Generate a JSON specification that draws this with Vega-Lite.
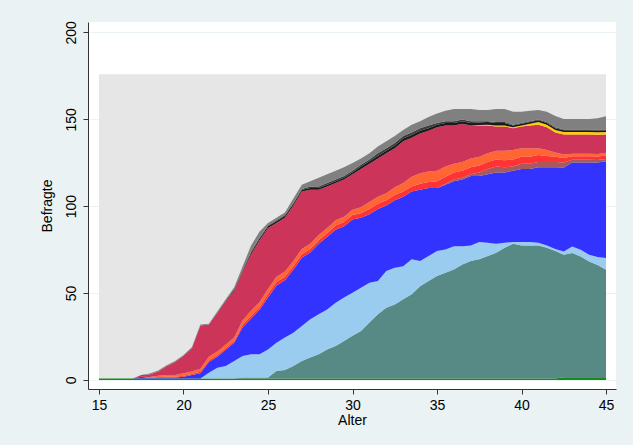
{
  "$schema": "https://vega.github.io/schema/vega-lite/v6.json",
  "width": 528,
  "height": 367,
  "autosize": {"type": "none"},
  "padding": {"left": 88, "top": 22, "right": 17, "bottom": 56},
  "background": "#EAF2F3",
  "view": {"fill": "white", "stroke": null},
  "config": {
    "font": "Liberation Sans",
    "axis": {
      "labelFont": "Liberation Sans", "titleFont": "Liberation Sans",
      "labelFontSize": 14, "titleFontSize": 14, "titleFontWeight": "normal",
      "labelColor": "black", "titleColor": "black",
      "domainColor": "#333333", "tickColor": "#333333", "tickSize": 5,
      "labelFlush": false, "labelOverlap": false
    }
  },
  "datasets": {
    "seq": [
      {"age":15,"c01":0.9,"c02":0,"c03":0,"c04":0,"c05":0,"c06":0,"c07":0,"c08":0,"c09":0,"c10":0,"c11":0,"c12":0},
      {"age":15.5,"c01":0.9,"c02":0,"c03":0,"c04":0,"c05":0,"c06":0,"c07":0,"c08":0,"c09":0,"c10":0,"c11":0,"c12":0},
      {"age":16,"c01":0.9,"c02":0,"c03":0,"c04":0,"c05":0,"c06":0,"c07":0,"c08":0,"c09":0,"c10":0,"c11":0,"c12":0},
      {"age":16.5,"c01":0.9,"c02":0,"c03":0,"c04":0,"c05":0,"c06":0,"c07":0,"c08":0,"c09":0,"c10":0,"c11":0,"c12":0},
      {"age":17,"c01":0.9,"c02":0,"c03":0,"c04":0,"c05":0,"c06":0,"c07":0,"c08":0,"c09":0,"c10":0,"c11":0,"c12":0},
      {"age":17.5,"c01":0.9,"c02":0,"c03":0,"c04":1,"c05":0,"c06":0,"c07":0,"c08":1,"c09":0,"c10":0,"c11":0,"c12":0},
      {"age":18,"c01":0.9,"c02":0,"c03":0,"c04":0.3,"c05":0,"c06":0,"c07":0.5,"c08":1.5,"c09":0,"c10":0,"c11":0,"c12":0.5},
      {"age":18.5,"c01":0.9,"c02":0,"c03":0,"c04":0.5,"c05":0,"c06":0.3,"c07":0.7,"c08":2.5,"c09":0,"c10":0,"c11":0,"c12":0.5},
      {"age":19,"c01":0.9,"c02":0,"c03":0,"c04":0.5,"c05":0,"c06":0.5,"c07":1,"c08":5,"c09":0,"c10":0,"c11":0,"c12":0.5},
      {"age":19.5,"c01":0.9,"c02":0,"c03":0,"c04":0.5,"c05":0,"c06":0.5,"c07":1,"c08":7.5,"c09":0,"c10":0,"c11":0,"c12":0.5},
      {"age":20,"c01":0.9,"c02":0,"c03":0,"c04":1,"c05":0,"c06":0.5,"c07":1.5,"c08":10,"c09":0,"c10":0,"c11":0,"c12":0.5},
      {"age":20.5,"c01":0.9,"c02":0,"c03":0,"c04":2,"c05":0,"c06":0.5,"c07":1.5,"c08":13.5,"c09":0,"c10":0,"c11":0,"c12":0.5},
      {"age":21,"c01":0.9,"c02":0,"c03":0,"c04":3,"c05":0,"c06":1,"c07":1.5,"c08":25,"c09":0,"c10":0,"c11":0,"c12":0.5},
      {"age":21.5,"c01":0.9,"c02":0,"c03":3.3,"c04":6.2,"c05":0,"c06":1,"c07":2,"c08":18.5,"c09":0,"c10":0,"c11":0,"c12":0.5},
      {"age":22,"c01":0.9,"c02":0,"c03":6.2,"c04":6.3,"c05":0,"c06":1,"c07":2,"c08":22,"c09":0,"c10":0.3,"c11":0,"c12":0.7},
      {"age":22.5,"c01":0.9,"c02":0,"c03":7.2,"c04":9.3,"c05":0,"c06":1,"c07":2,"c08":25,"c09":0,"c10":0.3,"c11":0,"c12":0.7},
      {"age":23,"c01":0.9,"c02":0,"c03":10,"c04":10.5,"c05":0,"c06":1,"c07":2,"c08":27,"c09":0,"c10":0.5,"c11":0.5,"c12":1},
      {"age":23.5,"c01":0.9,"c02":0.5,"c03":12.4,"c04":16.6,"c05":0,"c06":1.5,"c07":2.5,"c08":28,"c09":0,"c10":0.5,"c11":0.5,"c12":2},
      {"age":24,"c01":0.9,"c02":0.5,"c03":13.4,"c04":20.6,"c05":0,"c06":1.5,"c07":3,"c08":32.5,"c09":0,"c10":1,"c11":0.5,"c12":3.5},
      {"age":24.5,"c01":0.9,"c02":0.5,"c03":13.4,"c04":25.6,"c05":0,"c06":1.5,"c07":3,"c08":35.5,"c09":0,"c10":1,"c11":0.5,"c12":3.5},
      {"age":25,"c01":0.9,"c02":0.5,"c03":16.2,"c04":29.8,"c05":0,"c06":2,"c07":3,"c08":35,"c09":0,"c10":1,"c11":0.5,"c12":1.5},
      {"age":25.5,"c01":0.9,"c02":4.3,"c03":16.2,"c04":33,"c05":0,"c06":2,"c07":3,"c08":31,"c09":0,"c10":1,"c11":0.5,"c12":1.5},
      {"age":26,"c01":0.9,"c02":4.9,"c03":18.6,"c04":33,"c05":0,"c06":2,"c07":3,"c08":31,"c09":0,"c10":1,"c11":0.5,"c12":1.5},
      {"age":26.5,"c01":0.9,"c02":7.2,"c03":19.1,"c04":36.2,"c05":0,"c06":2,"c07":3,"c08":32,"c09":0,"c10":1,"c11":0.5,"c12":2.5},
      {"age":27,"c01":0.9,"c02":10,"c03":20.2,"c04":39.3,"c05":0,"c06":2,"c07":3,"c08":33,"c09":0,"c10":1,"c11":0.5,"c12":2.5},
      {"age":27.5,"c01":0.9,"c02":12,"c03":22,"c04":38.5,"c05":0,"c06":2,"c07":3,"c08":31,"c09":0,"c10":1,"c11":1,"c12":3},
      {"age":28,"c01":0.9,"c02":13.9,"c03":23,"c04":40.6,"c05":0,"c06":2,"c07":3,"c08":26,"c09":0,"c10":1,"c11":1,"c12":5},
      {"age":28.5,"c01":0.9,"c02":16.7,"c03":23,"c04":41.8,"c05":0,"c06":2,"c07":3,"c08":24,"c09":0,"c10":1,"c11":1,"c12":5},
      {"age":29,"c01":0.9,"c02":18.7,"c03":24.8,"c04":42,"c05":0,"c06":2.5,"c07":3,"c08":21.5,"c09":0,"c10":1,"c11":1,"c12":5},
      {"age":29.5,"c01":0.9,"c02":21.5,"c03":25,"c04":41,"c05":0,"c06":2.5,"c07":3,"c08":21.5,"c09":0,"c10":1,"c11":1,"c12":5},
      {"age":30,"c01":0.9,"c02":24.5,"c03":24.8,"c04":42.2,"c05":0,"c06":2.5,"c07":3,"c08":20.5,"c09":0,"c10":1,"c11":1,"c12":4.5},
      {"age":30.5,"c01":0.9,"c02":27.3,"c03":24.9,"c04":40.3,"c05":0,"c06":2.5,"c07":3.5,"c08":22,"c09":0,"c10":1.5,"c11":1,"c12":3.5},
      {"age":31,"c01":0.9,"c02":32.1,"c03":23,"c04":39.4,"c05":0,"c06":3,"c07":4,"c08":22,"c09":0,"c10":1.5,"c11":1,"c12":3.5},
      {"age":31.5,"c01":0.9,"c02":36.9,"c03":19.1,"c04":41.5,"c05":0,"c06":3,"c07":4,"c08":22,"c09":0,"c10":1.5,"c11":1.5,"c12":4},
      {"age":32,"c01":0.9,"c02":40.7,"c03":21.1,"c04":37.7,"c05":0,"c06":3,"c07":4,"c08":23,"c09":0,"c10":1.5,"c11":1.5,"c12":4},
      {"age":32.5,"c01":0.9,"c02":42.5,"c03":21.2,"c04":38.8,"c05":0,"c06":3,"c07":4.5,"c08":22.5,"c09":0,"c10":1.5,"c11":1.5,"c12":4},
      {"age":33,"c01":0.9,"c02":45.5,"c03":19,"c04":40,"c05":0,"c06":3,"c07":5,"c08":24,"c09":0,"c10":1.5,"c11":1.5,"c12":3.5},
      {"age":33.5,"c01":0.9,"c02":48.4,"c03":20.1,"c04":39,"c05":0,"c06":3,"c07":5.5,"c08":22.5,"c09":0,"c10":1.5,"c11":1.5,"c12":4.5},
      {"age":34,"c01":0.9,"c02":53.1,"c03":14.4,"c04":41,"c05":0,"c06":3.5,"c07":6,"c08":23,"c09":0,"c10":1.5,"c11":1.5,"c12":4},
      {"age":34.5,"c01":0.9,"c02":56,"c03":14.4,"c04":39.1,"c05":0,"c06":3.5,"c07":6,"c08":23.5,"c09":0,"c10":1.5,"c11":1.5,"c12":5},
      {"age":35,"c01":0.9,"c02":58.9,"c03":14.4,"c04":36.2,"c05":0,"c06":4,"c07":6,"c08":25,"c09":0,"c10":1.5,"c11":1,"c12":5.5},
      {"age":35.5,"c01":0.9,"c02":60.8,"c03":13.4,"c04":37.3,"c05":0.5,"c06":4,"c07":6,"c08":23.5,"c09":0,"c10":1.5,"c11":1,"c12":6},
      {"age":36,"c01":0.9,"c02":62.7,"c03":13.4,"c04":37.4,"c05":1,"c06":4,"c07":5,"c08":22,"c09":0,"c10":1.5,"c11":1,"c12":7},
      {"age":36.5,"c01":0.9,"c02":65.5,"c03":10.6,"c04":38.4,"c05":1,"c06":4,"c07":5,"c08":22,"c09":0,"c10":1.5,"c11":1,"c12":6},
      {"age":37,"c01":0.9,"c02":67.5,"c03":9,"c04":40,"c05":1,"c06":4,"c07":5,"c08":19,"c09":0,"c10":1.5,"c11":1,"c12":7},
      {"age":37.5,"c01":0.9,"c02":68.5,"c03":10,"c04":38,"c05":2,"c06":4,"c07":5,"c08":18,"c09":0.3,"c10":1.5,"c11":0.7,"c12":6.5},
      {"age":38,"c01":0.9,"c02":70.4,"c03":7.6,"c04":39.5,"c05":3,"c06":4,"c07":5,"c08":16,"c09":0.5,"c10":1.5,"c11":0.5,"c12":6.5},
      {"age":38.5,"c01":0.9,"c02":72.3,"c03":5.2,"c04":41,"c05":3.5,"c06":4,"c07":5,"c08":14,"c09":0.5,"c10":1.5,"c11":0.5,"c12":7.5},
      {"age":39,"c01":0.9,"c02":75.2,"c03":2.8,"c04":40.5,"c05":3,"c06":4,"c07":5.5,"c08":14,"c09":0.5,"c10":1.5,"c11":0.5,"c12":7.5},
      {"age":39.5,"c01":0.9,"c02":77.5,"c03":1,"c04":41,"c05":2.5,"c06":4,"c07":5.5,"c08":12.5,"c09":0.5,"c10":1,"c11":0.5,"c12":7.5},
      {"age":40,"c01":0.9,"c02":76.5,"c03":2,"c04":42,"c05":3,"c06":4,"c07":5,"c08":12.5,"c09":0.5,"c10":1,"c11":0.5,"c12":6.5},
      {"age":40.5,"c01":0.9,"c02":76.5,"c03":2,"c04":42,"c05":3,"c06":4,"c07":5,"c08":13,"c09":1,"c10":1,"c11":0.5,"c12":6},
      {"age":41,"c01":0.9,"c02":76.5,"c03":1.5,"c04":43.5,"c05":3,"c06":4,"c07":4,"c08":13.5,"c09":1.5,"c10":1,"c11":0.5,"c12":5.5},
      {"age":41.5,"c01":0.9,"c02":75.2,"c03":1.3,"c04":45,"c05":3,"c06":3.5,"c07":3.5,"c08":13,"c09":1.5,"c10":1,"c11":0.5,"c12":6},
      {"age":42,"c01":0.9,"c02":73.3,"c03":1.2,"c04":47,"c05":3,"c06":3,"c07":2.5,"c08":11.5,"c09":1.5,"c10":1,"c11":0.5,"c12":6.5},
      {"age":42.5,"c01":1.5,"c02":70.5,"c03":2,"c04":48.2,"c05":3,"c06":2.5,"c07":2,"c08":11.5,"c09":1.5,"c10":1,"c11":0.5,"c12":6},
      {"age":43,"c01":1.5,"c02":71.5,"c03":3.8,"c04":48.4,"c05":1.5,"c06":2,"c07":1.5,"c08":11,"c09":1.5,"c10":1,"c11":0.5,"c12":6},
      {"age":43.5,"c01":1.5,"c02":69.6,"c03":3.8,"c04":50.3,"c05":1.5,"c06":2,"c07":1.5,"c08":11,"c09":1.5,"c10":1,"c11":0.5,"c12":6},
      {"age":44,"c01":1.5,"c02":66.7,"c03":3.8,"c04":53.2,"c05":1.5,"c06":2,"c07":1.5,"c08":11,"c09":1.5,"c10":1,"c11":0.5,"c12":6},
      {"age":44.5,"c01":1.5,"c02":64.7,"c03":4.5,"c04":54.5,"c05":1.4,"c06":2,"c07":1.5,"c08":11,"c09":1.5,"c10":1,"c11":0.5,"c12":6.5},
      {"age":45,"c01":1.5,"c02":61.9,"c03":6.8,"c04":55.6,"c05":1.4,"c06":2,"c07":1.5,"c08":10.5,"c09":1.5,"c10":1,"c11":0.5,"c12":7.5}
    ]
  },
  "layer": [
    {
      "data": {"values": [{"x0": 15, "x1": 45, "y0": 0, "y1": 176}]},
      "mark": {"type": "rect", "color": "#E6E6E6"},
      "encoding": {
        "x": {"field": "x0", "type": "quantitative", "scale": {"domain": [14.35, 45.59], "nice": false, "zero": false},
              "axis": {"title": "Alter", "values": [15, 20, 25, 30, 35, 40, 45], "grid": false, "labelPadding": 4, "titlePadding": 1}},
        "x2": {"field": "x1"},
        "y": {"field": "y0", "type": "quantitative", "scale": {"domain": [-5.2, 206], "nice": false, "zero": false},
              "axis": {"title": "Befragte", "values": [0, 50, 100, 150, 200], "grid": true, "gridColor": "#EAF2F3", "gridWidth": 1,
                       "labelAngle": -90, "labelAlign": "center", "labelBaseline": "bottom", "labelPadding": 5, "titlePadding": 10}},
        "y2": {"field": "y1"}
      }
    },
    {
      "data": {"name": "seq"},
      "transform": [{"fold": ["c01","c02","c03","c04","c05","c06","c07","c08","c09","c10","c11","c12"], "as": ["k", "v"]}],
      "mark": {"type": "area", "interpolate": "linear"},
      "encoding": {
        "x": {"field": "age", "type": "quantitative", "scale": {"domain": [14.35, 45.59], "nice": false, "zero": false},
              "axis": {"title": "Alter", "values": [15, 20, 25, 30, 35, 40, 45], "grid": false, "labelPadding": 4, "titlePadding": 1}},
        "y": {"field": "v", "type": "quantitative", "stack": "zero", "scale": {"domain": [-5.2, 206], "nice": false, "zero": false},
              "axis": {"title": "Befragte", "values": [0, 50, 100, 150, 200], "grid": true, "gridColor": "#EAF2F3", "gridWidth": 1,
                       "labelAngle": -90, "labelAlign": "center", "labelBaseline": "bottom", "labelPadding": 5, "titlePadding": 10}},
        "color": {"field": "k", "type": "nominal", "legend": null,
                  "scale": {"domain": ["c01","c02","c03","c04","c05","c06","c07","c08","c09","c10","c11","c12"],
                            "range": ["#158C15","#578A84","#99CCEE","#3333FF","#A65A5F","#FF3333","#FF6633","#CC3459","#FFCC00","#1A1A1A","#3C3C3C","#808080"]}},
        "order": {"field": "k", "sort": "ascending"}
      }
    }
  ]
}
